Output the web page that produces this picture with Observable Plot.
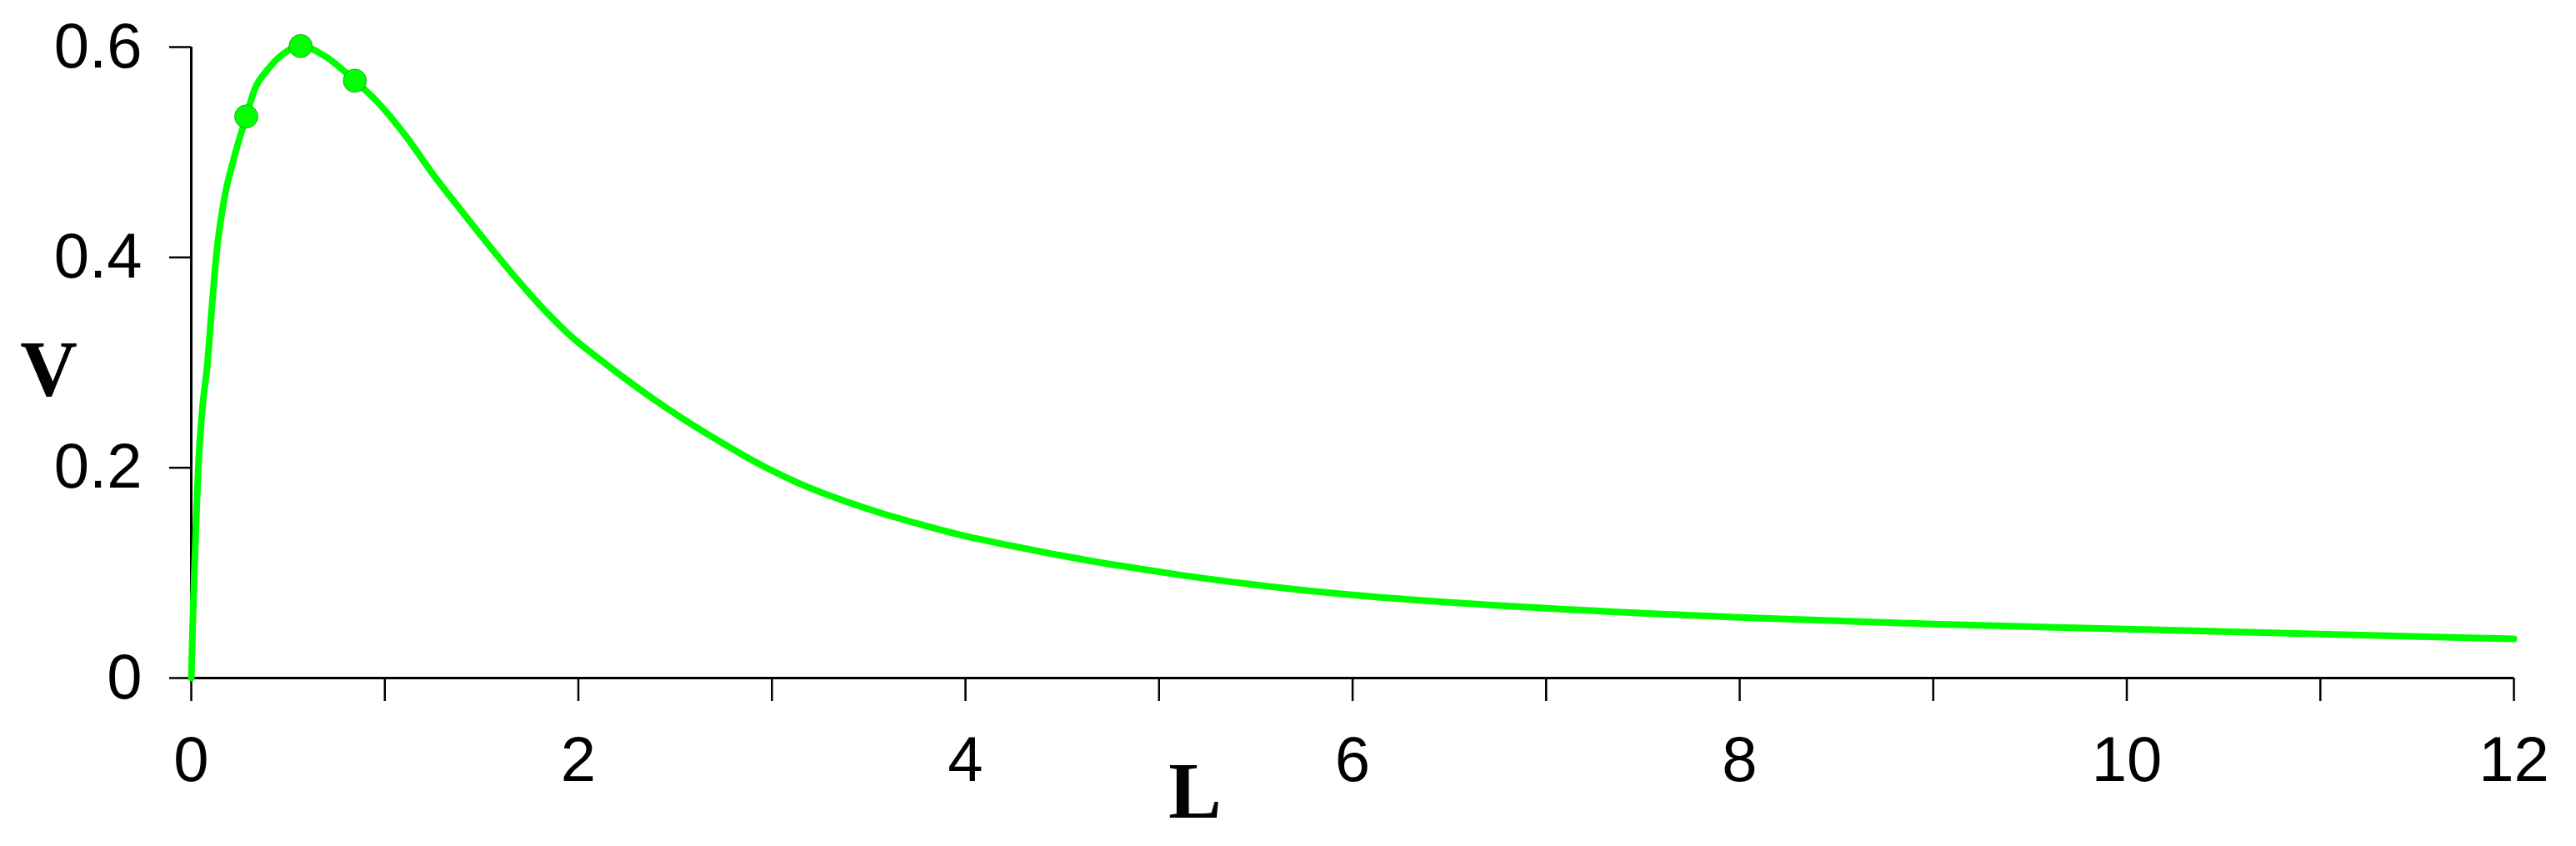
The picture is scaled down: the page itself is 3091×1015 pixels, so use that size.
<!DOCTYPE html>
<html>
<head>
<meta charset="utf-8">
<script src="https://cdn.jsdelivr.net/npm/d3@7"></script>
<script src="https://cdn.jsdelivr.net/npm/@observablehq/plot@0.6"></script>
<style>
  html, body { margin: 0; padding: 0; background: #ffffff; }
  #chart { width: 3091px; height: 1015px; overflow: hidden; }
</style>
</head>
<body>
<div id="chart"></div>
<script>
// Curve V(L)
const curveL = [0, 0.007, 0.016, 0.026, 0.036, 0.059, 0.083, 0.105, 0.129, 0.169, 0.220, 0.284, 0.328, 0.392, 0.471, 0.565, 0.694, 0.845, 0.966, 1.110, 1.253, 1.397, 1.540, 1.684, 1.827, 1.971, 2.115, 2.258, 2.402, 2.545, 2.689, 2.832, 2.976, 3.13, 3.35, 3.57, 3.79, 4.0, 4.23, 4.45, 4.66, 4.88, 5.11, 5.46, 6, 7, 8, 9, 10, 11, 12];
const curveV = [0, 0.048, 0.100, 0.153, 0.199, 0.259, 0.298, 0.349, 0.401, 0.454, 0.494, 0.534, 0.560, 0.578, 0.593, 0.601, 0.591, 0.568, 0.547, 0.515, 0.478, 0.444, 0.411, 0.379, 0.3495, 0.3235, 0.3025, 0.2825, 0.2635, 0.246, 0.2295, 0.214, 0.1995, 0.186, 0.170, 0.1565, 0.145, 0.135, 0.126, 0.118, 0.111, 0.1045, 0.098, 0.0895, 0.079, 0.0664, 0.0577, 0.0513, 0.0466, 0.0418, 0.0373];

// Marked points
const pointL = [0.284, 0.565, 0.845];
const pointV = [0.534, 0.601, 0.568];

// Axes
const xTicks = [0, 1, 2, 3, 4, 5, 6, 7, 8, 9, 10, 11, 12];
const xTickLabels = ["0", "", "2", "", "4", "", "6", "", "8", "", "10", "", "12"];
const yTicks = [0, 0.2, 0.4, 0.6];
const yTickLabels = ["0", "0.2", "0.4", "0.6"];
const xLabel = "L";
const yLabel = "V";

const curve = curveL.map((L, i) => ({L, V: curveV[i]}));
const points = pointL.map((L, i) => ({L, V: pointV[i]}));

const green = "#00ff00";
const tickFont = "'Liberation Sans', Arial, sans-serif";
const labelFont = "'Liberation Serif', 'Times New Roman', serif";

const plot = Plot.plot({
  width: 3091,
  height: 1015,
  marginLeft: 229,
  marginRight: 75,
  marginTop: 56,
  marginBottom: 202,
  style: {background: "#ffffff", color: "#000000", fontFamily: tickFont, overflow: "visible"},
  x: {domain: [0, 12]},
  y: {domain: [0, 0.6]},
  marks: [
    // axis lines
    Plot.ruleY([0], {x1: 0, x2: 12, stroke: "#000", strokeWidth: 3}),
    Plot.ruleX([0], {y1: 0, y2: 0.6, stroke: "#000", strokeWidth: 3}),
    Plot.axisX({
      ticks: xTicks,
      tickSize: 28,
      tickPadding: 42,
      tickFormat: (d) => xTickLabels[xTicks.indexOf(d)],
      fontSize: 76,
      strokeWidth: 2.5,
      stroke: "#000",
      fill: "#000",
      label: null
    }),
    Plot.axisY({
      ticks: yTicks,
      tickSize: 26,
      tickPadding: 33,
      tickFormat: (d) => yTickLabels[yTicks.indexOf(d)],
      fontSize: 76,
      strokeWidth: 2.5,
      stroke: "#000",
      fill: "#000",
      label: null
    }),
    Plot.line(curve, {x: "L", y: "V", stroke: green, strokeWidth: 8, curve: "monotone-x"}),
    Plot.dot(points, {x: "L", y: "V", r: 14, fill: green, stroke: "#1a5a1a", strokeWidth: 1, strokeOpacity: 0.5}),
    Plot.text([xLabel], {frameAnchor: "bottom", dx: -189, dy: 137, lineAnchor: "middle", fontSize: 95, fontWeight: "bold", fontFamily: labelFont, fill: "#000"}),
    Plot.text([yLabel], {frameAnchor: "left", dx: -171, dy: 10, textAnchor: "middle", lineAnchor: "middle", fontSize: 95, fontWeight: "bold", fontFamily: labelFont, fill: "#000"})
  ]
});
document.getElementById("chart").appendChild(plot);
</script>
</body>
</html>
